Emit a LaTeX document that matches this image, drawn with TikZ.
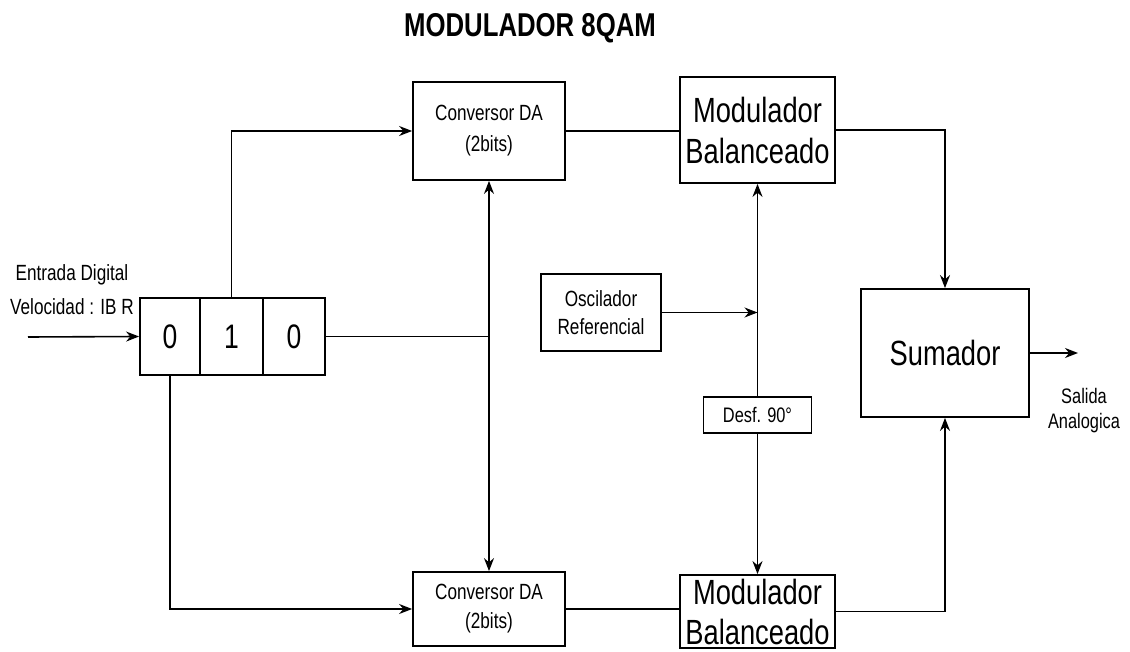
\documentclass[tikz,border=0pt]{standalone}
\usepackage{fontspec}
\setmainfont{Liberation Sans}[FakeStretch=0.78]
\usetikzlibrary{arrows.meta}
\begin{document}
\begin{tikzpicture}[x=1pt,y=-1pt,
  blk/.style={draw,line width=1.8pt,inner sep=0pt,align=center},
  conn/.style={line width=1.6pt},
  tip/.tip={Stealth[length=13pt,width=10pt]},
  arr/.style={conn,-tip},
  big/.style={font=\fontsize{35}{41}\selectfont},
  small/.style={font=\fontsize{22}{31}\selectfont}]
\useasboundingbox (0,0) rectangle (1130,652);
\fill[white] (0,0) rectangle (1130,652);
\node[font=\fontsize{33}{38}\selectfont\bfseries] (title) at (530,28) {MODULADOR 8QAM};
% register
\node[blk,minimum width=60pt,minimum height=77pt,font=\fontsize{34}{38}\selectfont] (c1) at (170,336.5) {0};
\node[blk,minimum width=63pt,minimum height=77pt,font=\fontsize{34}{38}\selectfont] (c2) at (231.5,336.5) {1};
\node[blk,minimum width=62pt,minimum height=77pt,font=\fontsize{34}{38}\selectfont] (c3) at (294,336.5) {0};
% blocks
\node[blk,small,minimum width=152pt,minimum height=98pt] (convT) at (489,131) {Conversor DA\\(2bits)};
\node[blk,big,minimum width=155pt,minimum height=106pt] (modT) at (757.5,130) {Modulador\\Balanceado};
\node[blk,small,minimum width=152pt,minimum height=74pt,font=\fontsize{22}{29}\selectfont] (convB) at (489,609) {Conversor DA\\(2bits)};
\node[blk,big,minimum width=155pt,minimum height=73pt,font=\fontsize{35}{40}\selectfont] (modB) at (757.5,611.5) {Modulador\\Balanceado};
\node[blk,minimum width=120pt,minimum height=77pt,font=\fontsize{22}{28}\selectfont] (osc) at (601,312.5) {Oscilador\\Referencial};
\node[blk,minimum width=108pt,minimum height=36pt,font=\fontsize{21}{24}\selectfont] (desf) at (757.5,415) {Desf. 90\textdegree};
\node[blk,big,minimum width=168pt,minimum height=128pt] (sum) at (945,353) {Sumador};
% labels
\node[align=center,font=\fontsize{22}{34}\selectfont] (inlbl) at (72,290) {Entrada Digital\\Velocidad : IB R};
\node[align=center,font=\fontsize{21}{25}\selectfont] (outlbl) at (1084,411) {Salida\\Analogica};
\coordinate (in) at (28,337);
\coordinate (out) at (1078,353);
% connectors
\draw[arr] (in) -- (c1.west);
\draw[arr] (c2.north) |- (convT.west);
\draw[arr] (c1.south) |- (convB.west);
\draw[conn] (c3.east) -- (c3.east -| convT.south);
\draw[conn,tip-tip] (convT.south) -- (convB.north);
\draw[conn] (convT.east) -- (convT.east -| modT.west);
\draw[conn] (convB.east) -- (convB.east -| modB.west);
\draw[arr] (modT.east) -| (sum.north);
\draw[arr] (modB.east) -| (sum.south);
\draw[arr] (sum.east) -- (out);
\draw[arr] (osc.east) -- (osc.east -| modT.south);
\draw[arr] (desf.north) -- (modT.south);
\draw[arr] (desf.south) -- (modB.north);
\end{tikzpicture}
\end{document}
